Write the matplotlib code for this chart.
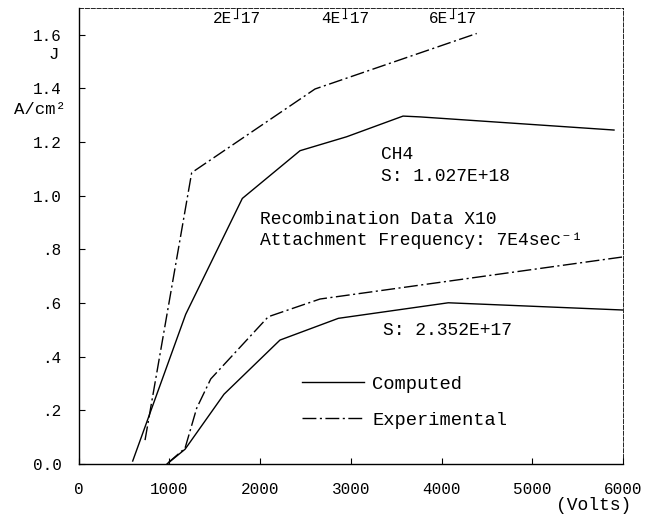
import matplotlib
matplotlib.use("Agg")
import matplotlib.pyplot as plt
import numpy as np

# ── Data ─────────────────────────────────────────────────────────────────
# upper case, S = 1.027E+18
comp_hi_v = [597, 1181, 1805, 2441, 2955, 3576, 3763, 5901]
comp_hi_j = [0.011, 0.558, 0.990, 1.168, 1.220, 1.297, 1.294, 1.245]
exp_hi_v = [733, 1247, 2606, 4388]
exp_hi_j = [0.089, 1.086, 1.398, 1.605]

# lower case, S = 2.352E+17
comp_lo_v = [975, 1174, 1603, 2220, 2863, 4075, 6000]
comp_lo_j = [0.0, 0.055, 0.260, 0.462, 0.543, 0.601, 0.574]
exp_lo_v = [986, 1174, 1302, 1457, 2091, 2661, 6000]
exp_lo_j = [0.004, 0.059, 0.208, 0.317, 0.549, 0.615, 0.772]

x_ticks = [0, 1000, 2000, 3000, 4000, 5000, 6000]
x_labels = ['0', '1000', '2000', '3000', '4000', '5000', '6000']
y_ticks = [0.0, 0.2, 0.4, 0.6, 0.8, 1.0, 1.2, 1.4, 1.6]
y_labels = ['0.0', '.2', '.4', '.6', '.8', '1.0', '1.2', '1.4', '1.6']
top_ticks = [1746, 2935, 4124]
top_labels = ['2E-17', '4E-17', '6E-17']

# ── Style ────────────────────────────────────────────────────────────────
FONT = ['Liberation Mono', 'DejaVu Sans Mono']
plt.rcParams['font.family'] = FONT
DASHDOT = (0, (10, 2.5, 1.5, 2.5))
LW = 1.0

fig = plt.figure(figsize=(6.56, 5.19), dpi=100)
ax = fig.add_axes([0.1197, 0.106, 0.83, 0.8786])

ax.plot(comp_hi_v, comp_hi_j, color='black', lw=LW, label='Computed')
ax.plot(comp_lo_v, comp_lo_j, color='black', lw=LW)
ax.plot(exp_hi_v, exp_hi_j, color='black', lw=LW, linestyle=DASHDOT,
        label='Experimental')
ax.plot(exp_lo_v, exp_lo_j, color='black', lw=LW, linestyle=DASHDOT)

ax.set_xlim(0, 6000)
ax.set_ylim(0, 1.7)
ax.set_xticks(x_ticks, labels=x_labels)
ax.set_yticks(y_ticks, labels=y_labels)
ax.tick_params(axis='both', direction='in', length=4.3, width=0.8,
               labelsize=11.5)
ax.tick_params(axis='x', pad=13)
ax.tick_params(axis='y', pad=12)

# frame: solid left/bottom, faint dashed top/right like the plotter scan
for side in ['left', 'bottom']:
    ax.spines[side].set_linewidth(1.0)
for side in ['top', 'right']:
    ax.spines[side].set_linewidth(0.6)
    ax.spines[side].set_linestyle((0, (5, 2)))

# top scale
sec = ax.secondary_xaxis('top')
sec.set_xticks(top_ticks, labels=top_labels)
sec.tick_params(direction='in', length=7, width=0.8, pad=-13, labelsize=11.5)
for s in sec.spines.values():
    s.set_visible(False)

# ── Annotations ──────────────────────────────────────────────────────────
TXT = dict(fontsize=13, va='baseline', ha='left', color='black')
ax.text(3336, 1.137, 'CH4', **TXT)
ax.text(3336, 1.055, 'S: 1.027E+18', **TXT)
ax.text(2000, 0.8945, 'Recombination Data X10', **TXT)
ax.text(2000, 0.816, 'Attachment Frequency: 7E4sec\u207b\u00b9', **TXT)
ax.text(3359, 0.481, 'S: 2.352E+17', **TXT)

# axis labels
ax.text(-270, 1.528, 'J', fontsize=12.5, ha='center', va='center',
        clip_on=False)
ax.text(-424, 1.323, 'A/cm\u00b2', fontsize=12.5, ha='center', va='center',
        clip_on=False)
ax.text(5680, -0.153, '(Volts)', fontsize=13, ha='center', va='center',
        clip_on=False)

ax.legend(loc='center left', bbox_to_anchor=(0.41, 0.135), frameon=False,
          fontsize=13.5, handlelength=3.3, handletextpad=0.45,
          labelspacing=1.0, borderpad=0, borderaxespad=0)

fig.savefig('out.png', dpi=100, facecolor='white')
